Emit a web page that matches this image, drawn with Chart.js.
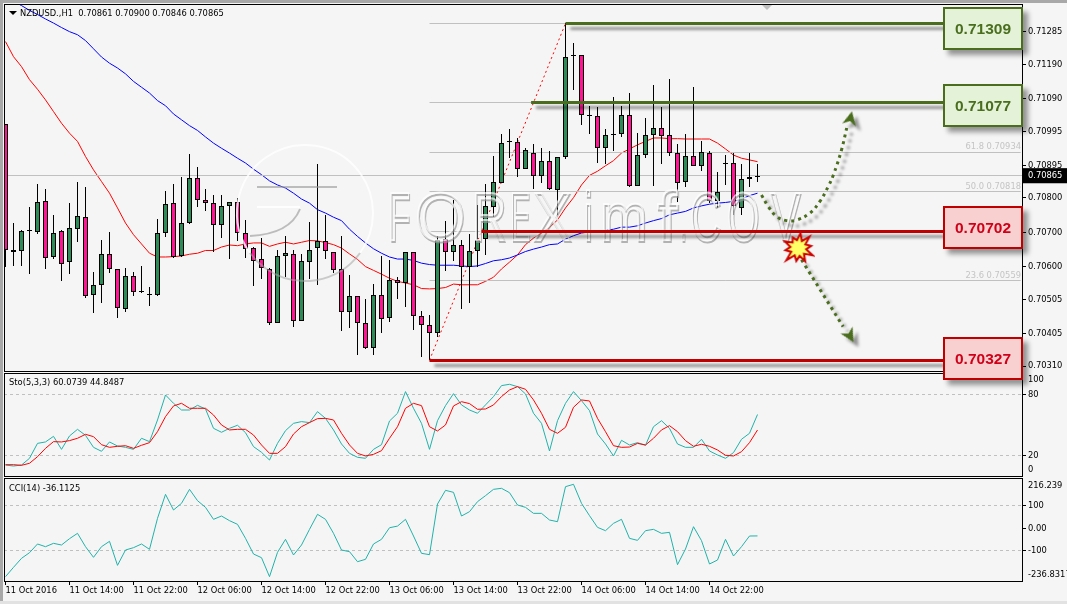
<!DOCTYPE html>
<html>
<head>
<meta charset="utf-8">
<title>NZDUSD H1</title>
<script src="https://cdn.jsdelivr.net/npm/chart.js@4"></script>
<style>
    html, body { margin: 0; padding: 0; background: #f5f5f5; }
    #terminal { position: relative; width: 1067px; height: 604px; overflow: hidden; font: 9.25px "DejaVu Sans Condensed", "DejaVu Sans", sans-serif; color: #000; }
    canvas { position: absolute; left: 0; }
    #priceCanvas { top: 0; }
    #stoCanvas { top: 372px; }
    #cciCanvas { top: 477px; }
    .edge { position: absolute; background: #a8a8a8; }
    .caption { position: absolute; white-space: pre; line-height: 12px; }
    .menuMark { position: absolute; left: 9px; top: 11px; width: 0; height: 0; border-left: 4px solid transparent; border-right: 4px solid transparent; border-top: 4px solid #000; }
    .shiftMark { position: absolute; left: 762px; top: 5px; width: 0; height: 0; border-left: 5px solid transparent; border-right: 5px solid transparent; border-top: 5px solid #c0c0c0; }
    .levelBox { position: absolute; left: 943px; width: 76px; height: 39px; line-height: 39px; text-align: center; font: bold 15.5px/39px "Liberation Sans", sans-serif; box-shadow: 5px 5px 5px rgba(0, 0, 0, 0.4); border-style: solid; border-width: 2px; }
    .levelBox.up { background: #e4f3d8; border-color: #4a6e1e; color: #4a6e1e; }
    .levelBox.down { background: #f8d0d0; border-color: #c00000; color: #d00018; }
</style>
</head>
<body>
<div id="terminal">
    <canvas id="priceCanvas" width="1067" height="372"></canvas>
    <canvas id="stoCanvas" width="1067" height="105"></canvas>
    <canvas id="cciCanvas" width="1067" height="127"></canvas>

    <div class="edge" style="left:0;top:0;width:1067px;height:3px"></div>
    <div class="edge" style="left:0;top:0;width:3px;height:604px"></div>
    <div class="edge" style="left:0;top:601px;width:1067px;height:3px;background:#e2e2e2"></div>

    <div class="menuMark"></div>
    <div class="shiftMark"></div>
    <div class="caption" style="left:20px;top:7px">NZDUSD.,H1  0.70861 0.70900 0.70846 0.70865</div>
    <div class="caption" style="left:9px;top:376px">Sto(5,3,3) 60.0739 44.8487</div>
    <div class="caption" style="left:9px;top:482px">CCI(14) -36.1125</div>

    <div class="levelBox up" style="top:7px">0.71309</div>
    <div class="levelBox up" style="top:84px">0.71077</div>
    <div class="levelBox down" style="top:206px">0.70702</div>
    <div class="levelBox down" style="top:337px">0.70327</div>
</div>

<script>
const opens = [
    0.71016, 0.70648, 0.70645, 0.70703, 0.70702, 0.70791, 0.70627, 0.70703, 0.70612, 0.70711,
    0.70744, 0.70516, 0.70545, 0.70636, 0.70593, 0.70476, 0.70572, 0.70529, 0.70517, 0.70518,
    0.70698, 0.70785, 0.70632, 0.70727, 0.70858, 0.70794, 0.70785, 0.70721, 0.70776, 0.70788,
    0.70698, 0.70654, 0.70622, 0.70593, 0.70435, 0.70632, 0.70636, 0.70441, 0.70613, 0.70653,
    0.70674, 0.70642, 0.70593, 0.70469, 0.70514, 0.70435, 0.70364, 0.70517, 0.70449, 0.70561,
    0.70551, 0.70642, 0.70456, 0.70429, 0.70406, 0.70680, 0.70642, 0.70663, 0.70599, 0.70645,
    0.70680, 0.70773, 0.70843, 0.70962, 0.70963, 0.70884, 0.70931, 0.70864, 0.70908, 0.70823,
    0.70919, 0.71215, 0.71217, 0.71040, 0.71039, 0.70945, 0.70983, 0.70986, 0.71042, 0.70835,
    0.70925, 0.70983, 0.71004, 0.70983, 0.70931, 0.70846, 0.70922, 0.70893, 0.70931, 0.70790,
    0.70899, 0.70902, 0.70771, 0.70855, 0.70861
];
const highs = [
    0.71016, 0.70728, 0.70707, 0.70775, 0.70841, 0.70827, 0.70751, 0.70707, 0.70786, 0.70846,
    0.70833, 0.70584, 0.70678, 0.70701, 0.70593, 0.70597, 0.70584, 0.70602, 0.70540, 0.70738,
    0.70820, 0.70841, 0.70862, 0.70929, 0.70891, 0.70827, 0.70809, 0.70809, 0.70788, 0.70800,
    0.70736, 0.70657, 0.70683, 0.70596, 0.70649, 0.70688, 0.70649, 0.70637, 0.70731, 0.70900,
    0.70749, 0.70642, 0.70688, 0.70576, 0.70514, 0.70505, 0.70550, 0.70631, 0.70620, 0.70569,
    0.70642, 0.70642, 0.70470, 0.70459, 0.70690, 0.70734, 0.70795, 0.70678, 0.70695, 0.70779,
    0.70841, 0.70923, 0.70986, 0.71001, 0.70975, 0.70945, 0.70957, 0.70945, 0.70937, 0.70919,
    0.71309, 0.71252, 0.71217, 0.71069, 0.71065, 0.71001, 0.71094, 0.71069, 0.71106, 0.70989,
    0.71033, 0.71130, 0.71065, 0.71147, 0.70957, 0.70986, 0.71123, 0.70966, 0.70938, 0.70876,
    0.70926, 0.70931, 0.70899, 0.70932, 0.70900
];
const lows = [
    0.70599, 0.70602, 0.70602, 0.70579, 0.70694, 0.70594, 0.70623, 0.70559, 0.70579, 0.70672,
    0.70507, 0.70466, 0.70495, 0.70580, 0.70449, 0.70469, 0.70513, 0.70523, 0.70484, 0.70513,
    0.70685, 0.70624, 0.70629, 0.70723, 0.70775, 0.70761, 0.70644, 0.70682, 0.70622, 0.70676,
    0.70626, 0.70542, 0.70564, 0.70430, 0.70435, 0.70571, 0.70425, 0.70441, 0.70564, 0.70545,
    0.70622, 0.70581, 0.70411, 0.70420, 0.70343, 0.70361, 0.70343, 0.70405, 0.70439, 0.70505,
    0.70481, 0.70414, 0.70335, 0.70327, 0.70396, 0.70586, 0.70615, 0.70476, 0.70495, 0.70599,
    0.70635, 0.70746, 0.70843, 0.70918, 0.70860, 0.70884, 0.70827, 0.70845, 0.70823, 0.70751,
    0.70913, 0.71115, 0.71013, 0.70987, 0.70903, 0.70900, 0.70938, 0.70979, 0.70831, 0.70835,
    0.70916, 0.70836, 0.70898, 0.70921, 0.70788, 0.70832, 0.70893, 0.70880, 0.70786, 0.70771,
    0.70838, 0.70751, 0.70751, 0.70831, 0.70846
];
const closes = [
    0.70649, 0.70644, 0.70703, 0.70703, 0.70788, 0.70624, 0.70698, 0.70609, 0.70712, 0.70747,
    0.70515, 0.70546, 0.70636, 0.70593, 0.70479, 0.70572, 0.70525, 0.70525, 0.70517, 0.70698,
    0.70782, 0.70629, 0.70727, 0.70858, 0.70794, 0.70785, 0.70721, 0.70776, 0.70788, 0.70698,
    0.70651, 0.70616, 0.70596, 0.70437, 0.70632, 0.70639, 0.70440, 0.70616, 0.70648, 0.70674,
    0.70645, 0.70590, 0.70469, 0.70514, 0.70435, 0.70364, 0.70517, 0.70446, 0.70561, 0.70551,
    0.70642, 0.70456, 0.70429, 0.70406, 0.70677, 0.70642, 0.70663, 0.70599, 0.70645, 0.70677,
    0.70776, 0.70846, 0.70960, 0.70962, 0.70884, 0.70940, 0.70864, 0.70908, 0.70826, 0.70919,
    0.71211, 0.71215, 0.71042, 0.71040, 0.70945, 0.70983, 0.70983, 0.71042, 0.70835, 0.70925,
    0.70983, 0.71004, 0.70980, 0.70931, 0.70843, 0.70922, 0.70893, 0.70934, 0.70790, 0.70817,
    0.70899, 0.70778, 0.70855, 0.70861, 0.70865
];

const slowMa = [
    0.71386, 0.71373, 0.71361, 0.71347, 0.71335, 0.71322, 0.71310, 0.71297, 0.71285, 0.71276,
    0.71259, 0.71235, 0.71211, 0.71193, 0.71179, 0.71162, 0.71140, 0.71123, 0.71106, 0.71084,
    0.71069, 0.71045, 0.71028, 0.71011, 0.70997, 0.70978, 0.70960, 0.70945, 0.70931, 0.70916,
    0.70902, 0.70884, 0.70868, 0.70850, 0.70838, 0.70829, 0.70814, 0.70797, 0.70785, 0.70766,
    0.70756, 0.70744, 0.70734, 0.70709, 0.70688, 0.70669, 0.70652, 0.70639, 0.70628, 0.70622,
    0.70622, 0.70618, 0.70610, 0.70606, 0.70604, 0.70604, 0.70604, 0.70602, 0.70600, 0.70602,
    0.70609, 0.70617, 0.70620, 0.70625, 0.70634, 0.70644, 0.70651, 0.70657, 0.70664, 0.70666,
    0.70680, 0.70690, 0.70698, 0.70701, 0.70703, 0.70705, 0.70709, 0.70715, 0.70715, 0.70719,
    0.70727, 0.70734, 0.70740, 0.70751, 0.70756, 0.70761, 0.70771, 0.70777, 0.70782, 0.70785,
    0.70787, 0.70790, 0.70797, 0.70807, 0.70814
];
const fastMa = [
    0.71256, 0.71212, 0.71183, 0.71145, 0.71117, 0.71086, 0.71052, 0.71018, 0.70989, 0.70965,
    0.70921, 0.70882, 0.70848, 0.70814, 0.70771, 0.70727, 0.70693, 0.70666, 0.70639, 0.70628,
    0.70628, 0.70629, 0.70631, 0.70636, 0.70639, 0.70647, 0.70647, 0.70657, 0.70663, 0.70661,
    0.70666, 0.70669, 0.70669, 0.70659, 0.70666, 0.70671, 0.70666, 0.70671, 0.70676, 0.70675,
    0.70670, 0.70664, 0.70654, 0.70637, 0.70621, 0.70600, 0.70589, 0.70578, 0.70566, 0.70557,
    0.70552, 0.70547, 0.70536, 0.70535, 0.70536, 0.70539, 0.70549, 0.70547, 0.70547, 0.70547,
    0.70557, 0.70569, 0.70593, 0.70613, 0.70634, 0.70664, 0.70683, 0.70698, 0.70714, 0.70736,
    0.70771, 0.70801, 0.70838, 0.70866, 0.70878, 0.70894, 0.70909, 0.70931, 0.70943, 0.70955,
    0.70965, 0.70975, 0.70975, 0.70973, 0.70973, 0.70972, 0.70972, 0.70972, 0.70972, 0.70960,
    0.70943, 0.70925, 0.70916, 0.70911, 0.70906
];

const stoMain = [
    10.4, 9.4, 10.4, 17.0, 31.7, 33.1, 38.6, 25.8, 39.0, 45.5,
    39.6, 27.8, 23.9, 33.1, 29.1, 27.8, 25.8, 36.7, 33.4, 54.7,
    79.3, 71.1, 64.5, 64.5, 69.1, 65.5, 46.5, 42.6, 46.5, 49.5,
    42.2, 28.5, 22.9, 15.3, 31.7, 44.2, 51.4, 53.1, 52.1, 62.9,
    56.3, 44.9, 31.1, 21.9, 18.0, 17.0, 25.8, 30.4, 53.7, 61.3,
    82.6, 66.2, 51.4, 25.8, 54.0, 68.8, 80.6, 69.5, 64.5, 61.3,
    69.5, 77.7, 88.5, 89.8, 87.5, 80.3, 61.3, 51.4, 24.2, 54.0,
    71.1, 82.6, 73.7, 63.9, 40.9, 31.1, 19.3, 34.7, 30.1, 32.4,
    29.8, 48.1, 54.0, 46.5, 31.1, 27.8, 27.8, 35.7, 24.2, 20.3,
    17.0, 22.6, 35.7, 41.6, 60.0739
];
const stoSignal = [
    10.7, 10.7, 10.1, 12.1, 18.6, 26.8, 33.4, 33.1, 34.4, 36.7,
    40.6, 38.3, 30.4, 27.8, 28.8, 29.4, 26.8, 29.8, 32.4, 43.2,
    58.0, 68.5, 71.1, 66.2, 66.2, 66.2, 59.6, 49.8, 44.9, 45.5,
    45.5, 39.9, 30.1, 21.9, 21.9, 28.5, 40.9, 48.1, 52.1, 56.0,
    56.3, 54.7, 41.6, 30.1, 21.9, 19.3, 20.9, 24.5, 36.7, 48.1,
    66.2, 71.1, 68.8, 48.1, 43.9, 49.8, 68.5, 72.7, 70.8, 65.2,
    65.5, 69.5, 77.7, 84.2, 87.5, 84.9, 74.4, 61.3, 45.5, 41.6,
    47.5, 67.2, 74.4, 73.4, 56.3, 43.2, 29.4, 27.8, 28.1, 31.7,
    30.1, 36.7, 44.9, 49.1, 43.2, 34.4, 28.8, 30.8, 28.8, 25.2,
    20.0, 19.3, 23.5, 32.4, 44.8487
];
const cciValues = [
    -217.2, -175.7, -135.8, -110.6, -72.0, -83.9, -69.1, -76.5, -48.4, -24.6,
    -83.9, -131.3, -83.9, -60.2, -166.9, -98.7, -88.3, -72.0, -95.7, 42.0,
    148.7, 79.1, 108.7, 170.9, 120.6, 90.9, 37.6, 52.4, 31.7, 15.4,
    -46.9, -116.5, -132.8, -217.2, -109.1, -51.3, -120.9, -76.5, -6.9, 59.8,
    37.6, -24.6, -98.7, -106.1, -150.6, -140.2, -72.0, -51.3, 0.2, 7.6,
    37.6, -36.5, -113.5, -119.4, 105.7, 166.5, 157.6, 52.4, 71.7, 116.1,
    142.8, 170.9, 175.4, 156.1, 101.3, 90.9, 64.2, 64.2, 34.6, 27.2,
    182.8, 193.2, 108.7, 53.9, 2.0, -12.8, 19.8, 37.6, -46.9, -55.8,
    -12.8, -6.9, -24.6, -20.2, -163.9, -94.3, 4.9, -57.2, -160.9, -143.2,
    -51.3, -125.4, -83.9, -36.5, -36.1125
];

// fibonacci retracement between the low of bar 53 and the high of bar 70
const fibStartBar = 53;
const fibEndBar = 70;
const fibLow = 0.70327;
const fibHigh = 0.71309;
const fibLevels = [0.71309, 0.71077, 0.70934, 0.70818, 0.70702, 0.70559, 0.70327];
const fibNames = ['61.8 0.70934', '50.0 0.70818', '23.6 0.70559'];
const fibNamedLevels = [0.70934, 0.70818, 0.70559];
const bidPrice = 0.70865;

const levelValues = [0.71309, 0.71077, 0.70702, 0.70327];
const levelColors = ['#4a6e1e', '#4a6e1e', '#c00000', '#c00000'];
const levelStartBars = [70, 65.7, 59.5, 53];
const levelEndBar = 117.2;

// forecast paths in bar numbers and prices
const upPathBars = [94.5, 95.35, 96.4, 97.65, 98.9, 100.55, 101.8, 102.85, 103.5, 104.5, 105.15];
const upPathPrices = [0.70809, 0.70775, 0.70746, 0.70734, 0.70736, 0.70756, 0.70790, 0.70834, 0.70868, 0.70940, 0.71004];
const downPathBars = [99.5, 104.7];
const downPathPrices = [0.70620, 0.70425];
const arrowTipBars = [105.6, 105.5];
const arrowTipPrices = [0.71030, 0.70400];
const burstBar = [99.1];
const burstPrice = [0.70654];

const priceTicks = [0.71285, 0.7119, 0.7109, 0.70995, 0.70895, 0.708, 0.707, 0.706, 0.70505, 0.70405, 0.7031, 0.70865];
const stoTickLabels = ['100', '80', '20', '0'];
const stoTickPlaces = [94.5, 80, 20, 6.2];
const stoLevels = [80, 20];
const cciTickLabels = ['216.239', '100', '0.00', '-100', '-236.8317'];
const cciTickPlaces = [187, 100, -3, -100, -206.7];
const cciLevels = [100, -100];
const timeTickBars = [0, 8, 16, 24, 32, 40, 48, 56, 64, 72, 80, 88];
const timeLabels = ['11 Oct 2016', '11 Oct 14:00', '11 Oct 22:00', '12 Oct 06:00', '12 Oct 14:00', '12 Oct 22:00',
    '13 Oct 06:00', '13 Oct 14:00', '13 Oct 22:00', '14 Oct 06:00', '14 Oct 14:00', '14 Oct 22:00'];

const FONT_FAMILY = '"DejaVu Sans Condensed", "DejaVu Sans", sans-serif';
const FONT_SIZE = 9.25;
const UP_COLOR = '#2e8b57';
const DOWN_COLOR = '#ff1493';
const GRAY_LINE = '#c0c0c0';
const TEAL = '#20b2aa';

// one bar is 8px wide, bar 0 sits at x=5.5
const barMin = (4 - 5.5) / 8;
const barMax = (1023 - 5.5) / 8;

Chart.defaults.font.family = FONT_FAMILY;
Chart.defaults.font.size = FONT_SIZE;
Chart.defaults.color = '#000';

// Points along a series, keyed by bar number
function toPoints(values) {
    return values.map((v, i) => ({ x: i, y: v }));
}

function zipPoints(xs, ys) {
    return xs.map((x, i) => ({ x: x, y: ys[i] }));
}

// Small off-screen images used as point styles
function makeBurst() {
    const c = document.createElement('canvas');
    c.width = 34;
    c.height = 34;
    const g = c.getContext('2d');
    const outer = [15, 8, 16, 8, 13, 8, 16, 8, 15, 8, 13, 8, 17, 8, 13, 8, 15, 8, 12, 8];
    const angles = outer.map((r, i) => -Math.PI / 2 + i * Math.PI / 10 + 0.15);
    g.beginPath();
    outer.forEach((r, i) => {
        const px = 17 + r * Math.cos(angles[i]);
        const py = 17 + r * Math.sin(angles[i]);
        if (i === 0) g.moveTo(px, py); else g.lineTo(px, py);
    });
    g.closePath();
    g.fillStyle = '#ffff66';
    g.fill();
    g.lineWidth = 2;
    g.strokeStyle = '#cc0000';
    g.stroke();
    return c;
}

function makeArrowHead() {
    const c = document.createElement('canvas');
    c.width = 20;
    c.height = 20;
    const g = c.getContext('2d');
    g.beginPath();
    g.moveTo(10, 2);
    g.lineTo(17, 16);
    g.lineTo(10, 12);
    g.lineTo(3, 16);
    g.closePath();
    g.fillStyle = '#4a6e1e';
    g.fill();
    return c;
}

// Embossed site mark, laid over the candles
const markGlyphs = [['F', 388, 22], ['O', 415, 50], ['R', 472, 34], ['E', 510, 20], ['X', 533, 38], ['i', 584, 8],
    ['m', 600, 47], ['f', 657, 20], ['.', 680, 6], ['C', 690, 31], ['O', 727, 32], ['V', 770, 30]];

function drawSiteMark(ctx) {
    ctx.save();
    ctx.lineWidth = 2;
    ctx.strokeStyle = 'rgba(255,255,255,0.8)';
    ctx.beginPath();
    ctx.arc(305, 213, 68, Math.PI * 0.8, Math.PI * 2.2);
    ctx.stroke();
    ctx.strokeStyle = 'rgba(165,165,165,0.55)';
    ctx.beginPath();
    ctx.arc(305, 213, 68, Math.PI * 0.2, Math.PI * 0.8);
    ctx.stroke();

    // the swoosh inside the ring
    ctx.strokeStyle = 'rgba(150,150,150,0.6)';
    ctx.beginPath();
    ctx.moveTo(257, 187);
    ctx.lineTo(337, 187);
    ctx.moveTo(300, 209);
    ctx.quadraticCurveTo(290, 234, 250, 236);
    ctx.stroke();
    ctx.strokeStyle = 'rgba(255,255,255,0.9)';
    ctx.beginPath();
    ctx.moveTo(257, 207);
    ctx.lineTo(300, 207);
    ctx.stroke();

    ctx.font = '68px "Liberation Sans", sans-serif';
    ctx.textBaseline = 'alphabetic';
    markGlyphs.forEach(([ch, x, w]) => {
        const sx = w / ctx.measureText(ch).width;
        ctx.save();
        ctx.translate(x, 240);
        ctx.scale(sx, 1);
        ctx.lineWidth = 2;
        ctx.strokeStyle = 'rgba(150,150,150,0.7)';
        ctx.strokeText(ch, 1 / sx, 2);
        ctx.strokeStyle = 'rgba(255,255,255,0.7)';
        ctx.strokeText(ch, 0, 0);
        ctx.restore();
    });
    ctx.restore();
}

// Candle bars and level lines land on whole pixels, shadows and the site mark hang off dataset hooks
const paneTools = {
    id: 'paneTools',
    afterDatasetsUpdate(chart) {
        chart.getSortedVisibleDatasetMetas().forEach(meta => {
            const ds = chart.data.datasets[meta.index];
            if (meta.type === 'bar') {
                meta.data.forEach(bar => {
                    bar.y = Math.round(bar.y);
                    bar.base = Math.round(bar.base);
                    if (bar.y === bar.base) bar.base += 1;
                });
            } else if (ds.snapLine) {
                meta.data.forEach(pt => { pt.y = Math.floor(pt.y) + 0.5; });
            }
        });
    },
    beforeDatasetDraw(chart, args) {
        const ds = chart.data.datasets[args.index];
        if (ds.dropShadow) {
            const ctx = chart.ctx;
            ctx.save();
            ctx.shadowColor = 'rgba(0, 0, 0, 0.4)';
            ctx.shadowOffsetX = 5;
            ctx.shadowOffsetY = 5;
            ctx.shadowBlur = 3;
        }
    },
    afterDatasetDraw(chart, args) {
        const ds = chart.data.datasets[args.index];
        if (ds.dropShadow) chart.ctx.restore();
        if (ds.label === 'bodies') drawSiteMark(chart.ctx);
    },
    afterDraw(chart) {
        const ctx = chart.ctx;
        const a = chart.chartArea;
        ctx.save();
        ctx.strokeStyle = '#000';
        ctx.lineWidth = 1;
        ctx.strokeRect(a.left + 0.5, a.top + 0.5, a.right - a.left - 1, a.bottom - a.top - 1);
        ctx.restore();
    }
};

// Retracement captions sit just above their lines, flush with the right end
const fibCaptions = {
    id: 'fibCaptions',
    afterDatasetsDraw(chart) {
        const ctx = chart.ctx;
        const y = chart.scales.y;
        ctx.save();
        ctx.font = FONT_SIZE + 'px ' + FONT_FAMILY;
        ctx.fillStyle = '#c4c4c4';
        ctx.textAlign = 'right';
        ctx.textBaseline = 'middle';
        fibNames.forEach((name, i) => {
            ctx.fillText(name, 1021, y.getPixelForValue(fibNamedLevels[i]) - 5.5);
        });
        ctx.restore();
    }
};

// Tick labels may hang past the pane ends without shrinking it
function noScalePadding(scale) {
    scale.paddingTop = 0;
    scale.paddingBottom = 0;
    scale.paddingLeft = 0;
    scale.paddingRight = 0;
}

function xAxis(showLabels) {
    return {
        type: 'linear',
        offset: false,
        min: barMin,
        max: barMax,
        display: showLabels,
        border: { display: false },
        grid: { drawOnChartArea: false, tickLength: 3, color: '#000' },
        afterBuildTicks(scale) {
            scale.ticks = timeTickBars.map(v => ({ value: v }));
        },
        afterFit(scale) {
            noScalePadding(scale);
            if (showLabels) scale.height = 22;
        },
        ticks: {
            autoSkip: false,
            maxRotation: 0,
            minRotation: 0,
            align: 'start',
            padding: 0,
            color: '#000',
            callback: (value, index) => timeLabels[index]
        }
    };
}

function yAxis(min, max, places, labels, blankMarks) {
    return {
        type: 'linear',
        position: 'right',
        min: min,
        max: max,
        border: { display: false },
        grid: {
            drawOnChartArea: false,
            tickLength: 3,
            tickColor: ctx => (blankMarks && blankMarks.includes(ctx.index)) ? 'transparent' : '#000'
        },
        afterBuildTicks(scale) {
            scale.ticks = places.map(v => ({ value: v }));
        },
        afterFit(scale) {
            noScalePadding(scale);
            scale.width = 44;
        },
        ticks: {
            autoSkip: false,
            padding: 2,
            align: 'center',
            callback: (value, index) => labels[index]
        }
    };
}

function lineSet(points, color, order, extra) {
    return Object.assign({
        type: 'line',
        data: points,
        borderColor: color,
        borderWidth: 1,
        pointRadius: 0,
        tension: 0,
        order: order
    }, extra || {});
}

function flatLine(value, color, order, extra) {
    return lineSet([{ x: barMin, y: value }, { x: barMax, y: value }], color, order, Object.assign({ snapLine: true }, extra || {}));
}

const baseOptions = {
    responsive: false,
    maintainAspectRatio: false,
    animation: false,
    events: [],
    layout: { autoPadding: false, padding: { left: 4, top: 1, right: 0, bottom: 0 } },
    plugins: { legend: { display: false }, tooltip: { enabled: false } }
};

function initPriceChart() {
    const datasets = [];

    datasets.push(lineSet(toPoints(slowMa), '#0000ff', 9));
    datasets.push(lineSet(toPoints(fastMa), '#ff0000', 9));

    // retracement lines, the bid line and the dotted trend line
    fibLevels.forEach(level => {
        datasets.push(lineSet([{ x: fibStartBar, y: level }, { x: 126.9, y: level }], GRAY_LINE, 8, { snapLine: true }));
    });
    datasets.push(flatLine(bidPrice, GRAY_LINE, 8));
    datasets.push(lineSet([{ x: fibStartBar, y: fibLow }, { x: fibEndBar, y: fibHigh }], '#ff0000', 7, { borderDash: [2, 3] }));

    datasets.push({
        type: 'bar',
        label: 'wicks',
        data: highs.map((h, i) => ({ x: i, y: [lows[i], h] })),
        backgroundColor: '#000',
        borderWidth: 0,
        grouped: false,
        barPercentage: 1,
        categoryPercentage: 1,
        maxBarThickness: 1,
        inflateAmount: 0,
        order: 6
    });
    datasets.push({
        type: 'bar',
        label: 'bodies',
        data: opens.map((o, i) => ({ x: i, y: [o, closes[i]] })),
        backgroundColor: opens.map((o, i) => closes[i] >= o ? UP_COLOR : DOWN_COLOR),
        borderColor: '#000',
        borderWidth: 1,
        borderSkipped: false,
        grouped: false,
        barPercentage: 1,
        categoryPercentage: 1,
        maxBarThickness: 5,
        minBarLength: 1,
        inflateAmount: 0,
        order: 5
    });

    // marked support and resistance levels
    levelValues.forEach((level, i) => {
        datasets.push(lineSet([{ x: levelStartBars[i], y: level }, { x: levelEndBar, y: level }], levelColors[i], 4, {
            borderWidth: 3,
            snapLine: true,
            dropShadow: true
        }));
    });

    // forecast paths
    datasets.push(lineSet(zipPoints(upPathBars, upPathPrices), '#4a6e1e', 3, {
        borderWidth: 3,
        borderDash: [3, 4],
        tension: 0.4,
        dropShadow: true
    }));
    datasets.push(lineSet(zipPoints(downPathBars, downPathPrices), '#4a6e1e', 3, {
        borderWidth: 3,
        borderDash: [3, 4],
        dropShadow: true
    }));
    const arrowHead = makeArrowHead();
    datasets.push(lineSet(zipPoints(arrowTipBars, arrowTipPrices), '#4a6e1e', 2, {
        showLine: false,
        pointStyle: arrowHead,
        pointRadius: 8,
        rotation: [12, 150],
        dropShadow: true
    }));
    datasets.push(lineSet(zipPoints(burstBar, burstPrice), '#cc0000', 1, {
        showLine: false,
        pointStyle: makeBurst(),
        pointRadius: 14
    }));

    const axisY = yAxis(0.702927, 0.713656, priceTicks, priceTicks.map(v => v.toFixed(5)));
    axisY.ticks.color = ctx => ctx.tick.value === bidPrice ? '#fff' : '#000';
    axisY.ticks.showLabelBackdrop = ctx => ctx.tick.value === bidPrice;
    axisY.ticks.backdropColor = '#000';
    axisY.ticks.backdropPadding = { left: 5, right: 9, top: 2, bottom: 2 };

    new Chart(document.getElementById('priceCanvas').getContext('2d'), {
        type: 'bar',
        data: { datasets: datasets },
        options: Object.assign({}, baseOptions, {
            layout: { autoPadding: false, padding: { left: 4, top: 4, right: 0, bottom: 0 } },
            scales: { x: xAxis(false), y: axisY }
        }),
        plugins: [paneTools, fibCaptions]
    });
}

function initStoChart() {
    const datasets = stoLevels.map(v => flatLine(v, GRAY_LINE, 3, { borderDash: [3, 3] }));
    datasets.push(lineSet(toPoints(stoMain), TEAL, 2));
    datasets.push(lineSet(toPoints(stoSignal), '#ff0000', 1));

    new Chart(document.getElementById('stoCanvas').getContext('2d'), {
        type: 'line',
        data: { datasets: datasets },
        options: Object.assign({}, baseOptions, {
            scales: { x: xAxis(false), y: yAxis(-1.38, 100.9, stoTickPlaces, stoTickLabels, [0, 3]) }
        }),
        plugins: [paneTools]
    });
}

function initCciChart() {
    const datasets = cciLevels.map(v => flatLine(v, GRAY_LINE, 3, { borderDash: [3, 3] }));
    datasets.push(lineSet(toPoints(cciValues), TEAL, 1));

    new Chart(document.getElementById('cciCanvas').getContext('2d'), {
        type: 'line',
        data: { datasets: datasets },
        options: Object.assign({}, baseOptions, {
            scales: { x: xAxis(true), y: yAxis(-240.9, 221.3, cciTickPlaces, cciTickLabels, [0, 4]) }
        }),
        plugins: [paneTools]
    });
}

initPriceChart();
initStoChart();
initCciChart();
</script>
</body>
</html>
